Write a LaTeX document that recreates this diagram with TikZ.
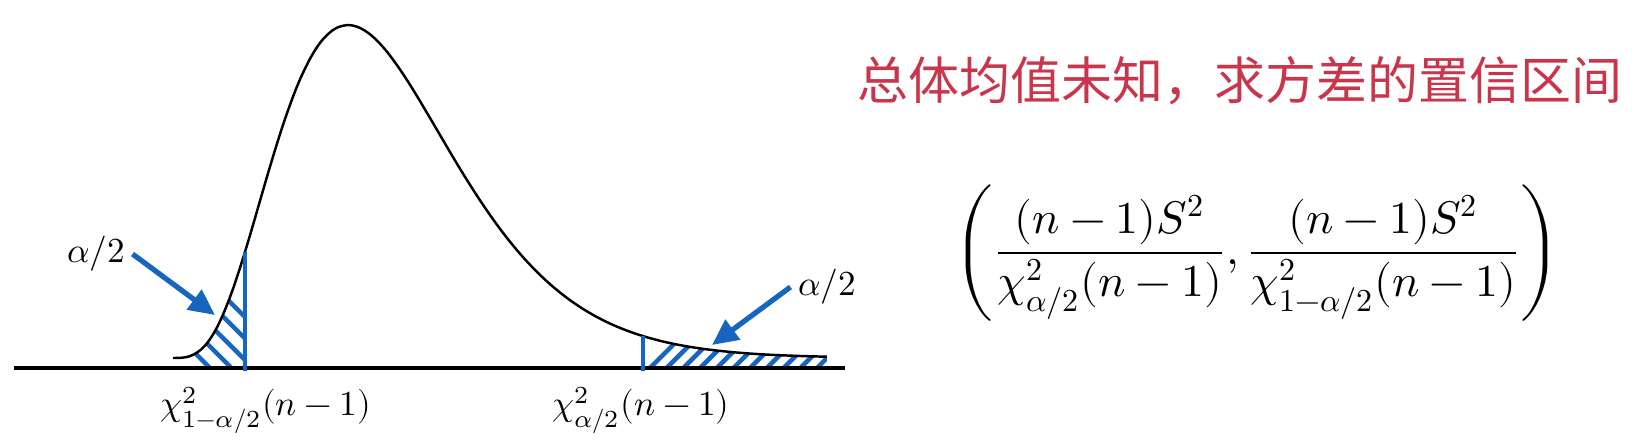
\documentclass[tikz,border=0pt]{standalone}
\usepackage{amsmath,amssymb}
\usepackage{fontspec}
\usepackage{unicode-math}
\usepackage{tikz}
\usetikzlibrary{arrows.meta}
\newfontfamily\cjk{Noto Sans CJK SC}
\definecolor{hatchblue}{RGB}{22,102,192}
\definecolor{titlered}{RGB}{201,54,75}
\newcommand{\densitycurve}{plot[domain=1.73:8.27, samples=120, smooth] (\x,{0.1+3.33*exp(4*ln((\x-1.70)/1.78)+4-(\x-1.70)/0.445)})}

\begin{document}
\begin{tikzpicture}[
  curve/.style={line width=0.7pt, draw=black},
  axisline/.style={line width=1.4pt, draw=black},
  bound/.style={line width=1.4pt, draw=hatchblue},
  hatch/.style={line width=1.3pt, draw=hatchblue},
  pointer/.style={-{Triangle[length=2.6mm,width=2.4mm]}, line width=1.5pt, draw=hatchblue},
  label/.style={font=\fontsize{10}{12}\selectfont, inner sep=2pt}
]
\useasboundingbox (0,-0.76) rectangle (16.44,3.68);
\coordinate (axisl) at (0.14,0);
\coordinate (axisr) at (8.45,0);
\coordinate (lowq) at (2.45,-0.03);
\coordinate (lowtop) at (2.45,1.16);
\coordinate (uppq) at (6.43,-0.03);
\coordinate (upptop) at (6.43,0.32);
\coordinate (lowtip) at (2.15,0.53);
\coordinate (upptip) at (7.12,0.23);

\begin{scope}
  \clip (1.73,0) rectangle (2.45,1.2);
  \clip \densitycurve -- (8.27,0) -- (1.73,0) -- cycle;
  \foreach \c in {2.10,2.315,2.53,2.745,2.96}
    \draw[hatch] (\c,0) -- ++(-1.2,1.2);
\end{scope}
\begin{scope}
  \clip (6.43,0) rectangle (8.27,0.5);
  \clip \densitycurve -- (8.27,0) -- (1.73,0) -- cycle;
  \foreach \c in {6.50,6.667,...,8.2}
    \draw[hatch] (\c,0) -- ++(0.5,0.5);
\end{scope}

\draw[curve] \densitycurve;
\draw[axisline] (axisl) -- (axisr);
\draw[bound] (lowq) -- (lowtop);
\draw[bound] (uppq) -- (upptop);

\node[label] (lowlab) at (2.66,-0.42) {$\chi^2_{1-\alpha/2}(n-1)$};
\node[label] (upplab) at (6.41,-0.42) {$\chi^2_{\alpha/2}(n-1)$};
\node[label] (lowhalf) at (0.96,1.14) {$\alpha/2$};
\node[label] (upphalf) at (8.27,0.81) {$\alpha/2$};
\draw[pointer] (lowhalf.east) -- (lowtip);
\draw[pointer] (upphalf.west) -- (upptip);

\node[font=\cjk\fontsize{14.5}{17}\selectfont, text=titlered] (title) at (12.40,2.87) {总体均值未知，求方差的置信区间};
\node[font=\fontsize{13}{16}\selectfont] (interval) at (12.57,1.15) {$\displaystyle\left(\frac{(n-1)S^2}{\chi^2_{\alpha/2}(n-1)},\frac{(n-1)S^2}{\chi^2_{1-\alpha/2}(n-1)}\right)$};
\end{tikzpicture}
\end{document}
